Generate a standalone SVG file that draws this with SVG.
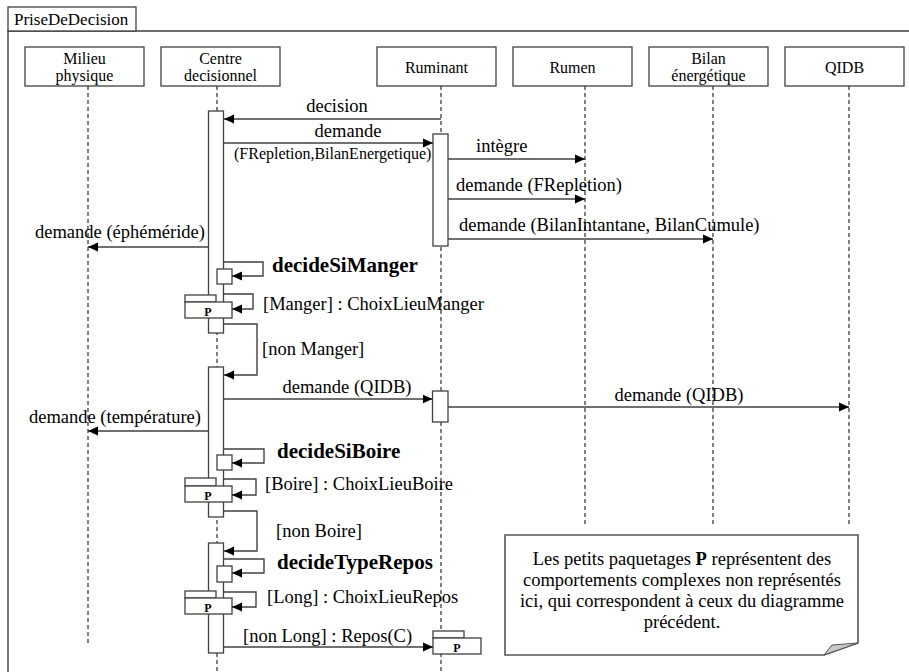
<svg xmlns="http://www.w3.org/2000/svg" width="909" height="672" viewBox="0 0 909 672">
  <style>
    text { font-family: "Liberation Serif", "Times New Roman", serif; fill: #000; }
    .head { font-size: 16px; text-anchor: middle; }
    .msg { font-size: 18.5px; }
    .small { font-size: 16px; }
    .op { font-size: 21px; font-weight: bold; }
    .pk { font-size: 12px; font-weight: bold; text-anchor: middle; }
    .box { fill: #fff; stroke: #404040; stroke-width: 1.3; }
    .life { stroke: #000; stroke-width: 1; stroke-dasharray: 4 3; fill: none; }
    .line { fill: none; stroke: #404040; stroke-width: 1.4; }
    .arrow { fill: none; stroke: #404040; stroke-width: 1.4; marker-end: url(#tip); }
  </style>
  <defs>
    <marker id="tip" markerUnits="userSpaceOnUse" markerWidth="11" markerHeight="10" refX="10" refY="5" orient="auto">
      <path d="M0,0.5 L10,5 L0,9.5 z" fill="#000"/>
    </marker>
  </defs>

  <rect width="909" height="672" fill="#fff"/>

  <!-- frame -->
  <g id="frame">
    <path class="line" d="M8,672 V31 H909"/>
    <rect class="box" x="8" y="7" width="128" height="24"/>
    <text x="14" y="25" style="font-size:17px">PriseDeDecision</text>
  </g>

  <!-- lifelines -->
  <g id="lifelines">
    <line class="life" x1="88" y1="86" x2="88" y2="643"/>
    <line class="life" x1="217" y1="86" x2="217" y2="672"/>
    <line class="life" x1="441" y1="86" x2="441" y2="672"/>
    <line class="life" x1="585" y1="86" x2="585" y2="524"/>
    <line class="life" x1="713" y1="86" x2="713" y2="524"/>
    <line class="life" x1="849" y1="86" x2="849" y2="524"/>
  </g>

  <!-- lifeline heads -->
  <g id="milieu">
    <rect class="box" x="25" y="47" width="119" height="39"/>
    <text class="head" x="84.5" y="64">Milieu</text>
    <text class="head" x="84.5" y="81">physique</text>
  </g>
  <g id="centre">
    <rect class="box" x="161" y="47" width="119" height="39"/>
    <text class="head" x="220.5" y="64">Centre</text>
    <text class="head" x="220.5" y="81">decisionnel</text>
  </g>
  <g id="ruminant">
    <rect class="box" x="377" y="47" width="119" height="39"/>
    <text class="head" x="436.5" y="73">Ruminant</text>
  </g>
  <g id="rumen">
    <rect class="box" x="513" y="47" width="119" height="39"/>
    <text class="head" x="572.5" y="73">Rumen</text>
  </g>
  <g id="bilan">
    <rect class="box" x="649" y="47" width="119" height="39"/>
    <text class="head" x="708.5" y="64">Bilan</text>
    <text class="head" x="708.5" y="81">énergétique</text>
  </g>
  <g id="qidb">
    <rect class="box" x="785" y="47" width="119" height="39"/>
    <text class="head" x="844.5" y="73">QIDB</text>
  </g>

  <!-- activations -->
  <g id="activations">
    <rect class="box" x="208.5" y="111" width="15" height="222"/>
    <rect class="box" x="208.5" y="367" width="15" height="150"/>
    <rect class="box" x="208.5" y="543" width="15" height="110"/>
    <rect class="box" x="433" y="134" width="15" height="112"/>
    <rect class="box" x="432.5" y="391" width="15.5" height="31"/>
  </g>

  <!-- self-call boxes and packages -->
  <g id="decideSiManger">
    <rect class="box" x="217" y="269" width="15" height="15"/>
  </g>
  <g id="choixLieuManger">
    <rect class="box" x="185" y="295" width="31" height="7"/>
    <rect class="box" x="185" y="302" width="47" height="16"/>
    <text class="pk" x="208" y="316">P</text>
  </g>
  <g id="decideSiBoire">
    <rect class="box" x="217" y="455" width="15" height="15"/>
  </g>
  <g id="choixLieuBoire">
    <rect class="box" x="185" y="478" width="31" height="8"/>
    <rect class="box" x="185" y="486" width="47" height="16"/>
    <text class="pk" x="208" y="500">P</text>
  </g>
  <g id="decideTypeRepos">
    <rect class="box" x="217" y="566" width="15" height="16"/>
  </g>
  <g id="choixLieuRepos">
    <rect class="box" x="185" y="591" width="31" height="7"/>
    <rect class="box" x="185" y="598" width="47" height="16"/>
    <text class="pk" x="208" y="612">P</text>
  </g>
  <g id="repos">
    <rect class="box" x="433" y="631" width="31" height="7"/>
    <rect class="box" x="433" y="638" width="48" height="16"/>
    <text class="pk" x="457" y="652">P</text>
  </g>

  <!-- messages -->
  <g id="connectors">
    <line class="arrow" x1="441" y1="119" x2="224" y2="119"/>
    <line class="arrow" x1="224" y1="143" x2="433" y2="143"/>
    <line class="arrow" x1="448" y1="159" x2="585" y2="159"/>
    <line class="arrow" x1="448" y1="199" x2="585" y2="199"/>
    <line class="arrow" x1="448" y1="239" x2="713" y2="239"/>
    <line class="arrow" x1="208.5" y1="247" x2="88" y2="247"/>
    <path class="arrow" d="M223.5,262 H263 V276 H232"/>
    <path class="arrow" d="M223.5,294 H253 V309 H232"/>
    <path class="arrow" d="M223.5,324 H257 V375 H224"/>
    <line class="arrow" x1="223.5" y1="399" x2="432.5" y2="399"/>
    <line class="arrow" x1="448" y1="407" x2="849" y2="407"/>
    <line class="arrow" x1="208.5" y1="431" x2="88" y2="431"/>
    <path class="arrow" d="M223.5,449 H264 V463 H232"/>
    <path class="arrow" d="M223.5,479 H256 V495 H232"/>
    <path class="arrow" d="M223.5,511 H257 V551 H224"/>
    <path class="arrow" d="M223.5,559 H264 V573 H232"/>
    <path class="arrow" d="M223.5,592 H256 V607 H232"/>
    <line class="arrow" x1="223.5" y1="647" x2="433" y2="647"/>
  </g>

  <!-- message labels -->
  <g id="labels">
    <text class="msg" x="337" y="112" text-anchor="middle">decision</text>
    <text class="msg" x="348" y="137" text-anchor="middle">demande</text>
    <text class="small" x="234" y="159">(FRepletion,BilanEnergetique)</text>
    <text class="msg" x="476" y="152">intègre</text>
    <text class="msg" x="456" y="191">demande (FRepletion)</text>
    <text class="msg" x="459" y="231">demande (BilanIntantane, BilanCumule)</text>
    <text class="msg" x="205" y="238" text-anchor="end">demande (éphéméride)</text>
    <text class="op" x="272" y="272">decideSiManger</text>
    <text class="msg" x="263" y="310">[Manger] : ChoixLieuManger</text>
    <text class="msg" x="262" y="355">[non Manger]</text>
    <text class="msg" x="347" y="393" text-anchor="middle">demande (QIDB)</text>
    <text class="msg" x="679" y="401" text-anchor="middle">demande (QIDB)</text>
    <text class="msg" x="201" y="423" text-anchor="end">demande (température)</text>
    <text class="op" x="277" y="458">decideSiBoire</text>
    <text class="msg" x="265" y="490">[Boire] : ChoixLieuBoire</text>
    <text class="msg" x="276" y="537">[non Boire]</text>
    <text class="op" x="277" y="569">decideTypeRepos</text>
    <text class="msg" x="267" y="603">[Long] : ChoixLieuRepos</text>
    <text class="msg" x="243" y="642">[non Long] : Repos(C)</text>
  </g>

  <!-- comment note -->
  <g id="note">
    <path d="M505,535 H858 V643 L824,655 H505 Z" fill="#fff" stroke="#555" stroke-width="1.6"/>
    <path d="M824,655 L858,643 L832,645 Z" fill="#c8c8c8" stroke="#555" stroke-width="1"/>
    <text class="msg" x="682" y="565" text-anchor="middle">Les petits paquetages <tspan font-weight="bold">P</tspan> représentent des</text>
    <text class="msg" x="682" y="586" text-anchor="middle">comportements complexes non représentés</text>
    <text class="msg" x="682" y="607" text-anchor="middle">ici, qui correspondent à ceux du diagramme</text>
    <text class="msg" x="682" y="628" text-anchor="middle">précédent.</text>
  </g>
</svg>
